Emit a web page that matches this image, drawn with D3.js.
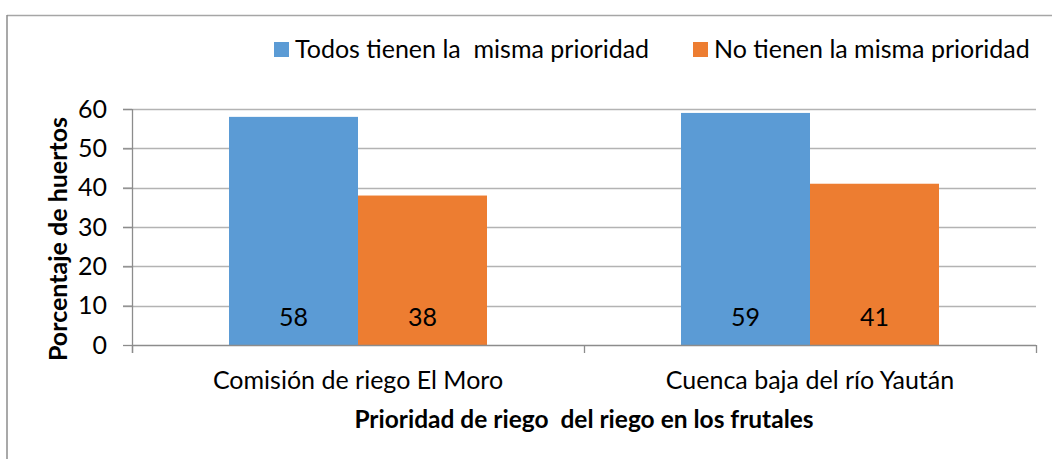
<!DOCTYPE html>
<html>
<head>
<meta charset="utf-8">
<script src="https://cdn.jsdelivr.net/npm/d3@7"></script>
<style>
  body { margin: 0; background: #fff; }
  text { font-family: Lato, "Open Sans", sans-serif; fill: #000; }
</style>
</head>
<body>
<div id="canvas"></div>
<script>
// data
var categories = ["Comisión de riego El Moro", "Cuenca baja del río Yaután"];
var seriesNames = ["Todos tienen la  misma prioridad", "No tienen la misma prioridad"];
var todosValues = [58, 59];
var noValues = [38, 41];
var yTicks = [0, 10, 20, 30, 40, 50, 60];
var colors = ["#5B9BD5", "#ED7D31"];

var W = 1052, H = 459;
var plot = {left: 132, right: 1036, top: 109, bottom: 345};

var svg = d3.select("#canvas").append("svg")
  .attr("width", W)
  .attr("height", H);

// chart frame (only top and left edges are visible)
svg.append("line").attr("x1", 7).attr("x2", W).attr("y1", 15.5).attr("y2", 15.5)
  .attr("stroke", "#a6a6a6").attr("stroke-width", 1.5);
svg.append("line").attr("x1", 7).attr("x2", 7).attr("y1", 15).attr("y2", H)
  .attr("stroke", "#8c8c8c").attr("stroke-width", 1.5);

var y = d3.scaleLinear().domain([0, 60]).range([plot.bottom, plot.top]);
var x0 = d3.scaleBand().domain(categories).range([plot.left, plot.right]);
var x1 = d3.scaleBand().domain(seriesNames).range([0, x0.bandwidth()])
  .paddingInner(0).paddingOuter(0.752);

// gridlines
svg.append("g").selectAll("line")
  .data(yTicks.slice(1))
  .enter().append("line")
  .attr("x1", plot.left - 9).attr("x2", plot.right)
  .attr("y1", function(d) { return Math.round(y(d)) + 0.5; })
  .attr("y2", function(d) { return Math.round(y(d)) + 0.5; })
  .attr("stroke", "#b3b3b3").attr("stroke-width", 1.3);

// y axis
var yAxis = svg.append("g")
  .attr("transform", "translate(" + plot.left + ",0)")
  .call(d3.axisLeft(y).tickValues(yTicks).tickSize(9).tickPadding(16));
yAxis.select(".domain").remove();
yAxis.selectAll(".tick line").attr("stroke", "#8c8c8c").attr("stroke-width", 1.3);
yAxis.selectAll(".tick text")
  .style("font-family", "Lato, sans-serif").style("font-size", "25px").attr("fill", "#000");
svg.append("line").attr("x1", plot.left + 0.5).attr("x2", plot.left + 0.5)
  .attr("y1", plot.top).attr("y2", plot.bottom + 8)
  .attr("stroke", "#8c8c8c").attr("stroke-width", 1.3);

// bars
var rows = categories.map(function(c, i) {
  return {cat: c, vals: [todosValues[i], noValues[i]]};
});
var groups = svg.append("g").selectAll("g")
  .data(rows)
  .enter().append("g")
  .attr("transform", function(d) { return "translate(" + x0(d.cat) + ",0)"; });

groups.selectAll("rect")
  .data(function(d) { return d.vals.map(function(v, j) { return {name: seriesNames[j], v: v, j: j}; }); })
  .enter().append("rect")
  .attr("x", function(d) { return x1(d.name); })
  .attr("width", x1.bandwidth())
  .attr("y", function(d) { return y(d.v); })
  .attr("height", function(d) { return y(0) - y(d.v); })
  .attr("fill", function(d) { return colors[d.j]; });

groups.selectAll("text.val")
  .data(function(d) { return d.vals.map(function(v, j) { return {name: seriesNames[j], v: v}; }); })
  .enter().append("text")
  .attr("class", "val")
  .attr("x", function(d) { return x1(d.name) + x1.bandwidth() / 2; })
  .attr("y", y(0) - 19)
  .attr("text-anchor", "middle")
  .style("font-size", "25px")
  .text(function(d) { return d.v; });

// x axis
svg.append("line").attr("x1", plot.left).attr("x2", plot.right)
  .attr("y1", plot.bottom + 0.5).attr("y2", plot.bottom + 0.5)
  .attr("stroke", "#8c8c8c").attr("stroke-width", 1.3);
var xTicks = [plot.left, (plot.left + plot.right) / 2, plot.right];
svg.append("g").selectAll("line")
  .data(xTicks)
  .enter().append("line")
  .attr("x1", function(d) { return d + 0.5; }).attr("x2", function(d) { return d + 0.5; })
  .attr("y1", plot.bottom).attr("y2", plot.bottom + 8)
  .attr("stroke", "#8c8c8c").attr("stroke-width", 1.3);

svg.append("g").selectAll("text")
  .data(categories)
  .enter().append("text")
  .attr("x", function(d) { return x0(d) + x0.bandwidth() / 2; })
  .attr("y", 389)
  .attr("text-anchor", "middle")
  .style("font-size", "25px")
  .text(function(d) { return d; });

// axis titles
svg.append("text")
  .attr("x", (plot.left + plot.right) / 2)
  .attr("y", 428)
  .attr("text-anchor", "middle")
  .style("font-size", "24.5px").style("font-weight", "bold").style("white-space", "pre")
  .text("Prioridad de riego  del riego en los frutales");

svg.append("text")
  .attr("transform", "translate(67,239) rotate(-90)")
  .attr("text-anchor", "middle")
  .style("font-size", "25px").style("font-weight", "bold")
  .text("Porcentaje de huertos");

// legend
var legendX = [274, 693];
var legend = svg.append("g").selectAll("g")
  .data(seriesNames)
  .enter().append("g")
  .attr("transform", function(d, i) { return "translate(" + legendX[i] + ",42)"; });
legend.append("rect")
  .attr("width", 15).attr("height", 15)
  .attr("fill", function(d, i) { return colors[i]; });
legend.append("text")
  .attr("x", 21).attr("y", 16)
  .style("font-size", "25px").style("white-space", "pre")
  .text(function(d) { return d; });
</script>
</body>
</html>
